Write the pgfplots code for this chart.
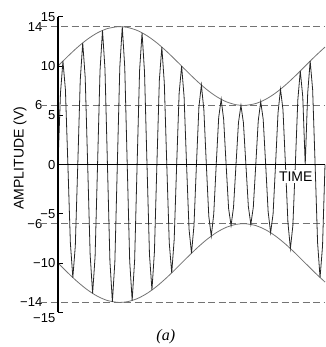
\documentclass[border=0pt]{standalone}
\usepackage{fontspec}
\setmainfont{Liberation Sans}
\newfontfamily\serifit{Liberation Serif}
\usepackage{pgfplots}
\pgfplotsset{compat=1.18}
\definecolor{envgray}{gray}{0.45}
\definecolor{dashgray}{gray}{0.45}
\begin{document}
\begin{tikzpicture}
\begin{axis}[
  scale only axis, width=267pt, height=295.5pt,
  xmin=0, xmax=13.5, ymin=-15, ymax=15,
  clip=false,
  axis line style={draw=none},
  xtick=\empty,
  ytick={15,10,5,0,-5,-10,-15},
  yticklabels={15,10,5,0,−5,−10,{}},
  extra y ticks={14,6,-6,-14},
  extra y tick labels={14,6,−6,−14},
  extra y tick style={major tick length=0pt, yticklabel style={xshift=-13pt}},
  tick align=inside, major tick length=5pt,
  tick style={black, line width=1pt},
  ytick pos=left,
  yticklabel style={font=\fontsize{13}{13}\selectfont, inner sep=2.5pt},
]
\coordinate (SW) at (rel axis cs:0,0);
% dashed reference lines
\addplot[dashgray, line width=0.7pt, dash pattern=on 7pt off 3.5pt] coordinates {(-0.9,14) (13.5,14)};
\addplot[dashgray, line width=0.7pt, dash pattern=on 7pt off 3.5pt] coordinates {(-0.9,6) (13.5,6)};
\addplot[dashgray, line width=0.7pt, dash pattern=on 7pt off 3.5pt] coordinates {(-0.9,-6) (13.5,-6)};
\addplot[dashgray, line width=0.7pt, dash pattern=on 7pt off 3.5pt] coordinates {(-0.9,-14) (13.5,-14)};
% envelope
\addplot[envgray, line width=0.8pt, smooth] coordinates {
(0,10) (0.5,10.995) (1,11.927) (1.5,12.738) (2,13.377) (2.5,13.804) (3,13.992) (3.125,14)
(3.5,13.929) (4,13.619) (4.5,13.082) (5,12.351) (5.5,11.472) (6,10.501) (6.5,9.499)
(7,8.528) (7.5,7.649) (8,6.918) (8.5,6.381) (9,6.071) (9.375,6) (9.5,6.008) (10,6.196)
(10.5,6.623) (11,7.262) (11.5,8.073) (12,9.005) (12.5,10) (13,10.995) (13.5,11.927)};
\addplot[envgray, line width=0.8pt, smooth] coordinates {
(0,-10) (0.5,-10.995) (1,-11.927) (1.5,-12.738) (2,-13.377) (2.5,-13.804) (3,-13.992) (3.125,-14)
(3.5,-13.929) (4,-13.619) (4.5,-13.082) (5,-12.351) (5.5,-11.472) (6,-10.501) (6.5,-9.499)
(7,-8.528) (7.5,-7.649) (8,-6.918) (8.5,-6.381) (9,-6.071) (9.375,-6) (9.5,-6.008) (10,-6.196)
(10.5,-6.623) (11,-7.262) (11.5,-8.073) (12,-9.005) (12.5,-10) (13,-10.995) (13.5,-11.927)};
% carrier
\addplot[black!85, line width=0.8pt] coordinates {
(0,0) (0.125,7.249) (0.25,10.501) (0.375,7.601) (0.5,0) (0.625,-7.945) (0.75,-11.472) (0.875,-8.275)
(1,0) (1.125,8.586) (1.25,12.351) (1.375,8.874) (1.5,0) (1.625,-9.133) (1.75,-13.082) (1.875,-9.359)
(2,0) (2.125,9.549) (2.25,13.619) (2.375,9.701) (2.5,0) (2.625,-9.810) (2.75,-13.929) (2.875,-9.877)
(3,0) (3.125,9.899) (3.25,13.992) (3.375,9.877) (3.5,0) (3.625,-9.810) (3.75,-13.804) (3.875,-9.701)
(4,0) (4.125,9.549) (4.25,13.377) (4.375,9.359) (4.5,0) (4.625,-9.133) (4.75,-12.738) (4.875,-8.874)
(5,0) (5.125,8.586) (5.25,11.927) (5.375,8.275) (5.5,0) (5.625,-7.945) (5.75,-10.995) (5.875,-7.601)
(6,0) (6.125,7.249) (6.25,10) (6.375,6.894) (6.5,0) (6.625,-6.541) (6.75,-9.005) (6.875,-6.197)
(7,0) (7.125,5.867) (7.25,8.073) (7.375,5.556) (7.5,0) (7.625,-5.268) (7.75,-7.262) (7.875,-5.009)
(8,0) (8.125,4.783) (8.25,6.623) (8.375,4.593) (8.5,0) (8.625,-4.441) (8.75,-6.196) (8.875,-4.332)
(9,0) (9.125,4.265) (9.25,6.008) (9.375,4.243) (9.5,0) (9.625,-4.265) (9.75,-6.071) (9.875,-4.332)
(10,0) (10.125,4.441) (10.25,6.381) (10.375,4.593) (10.5,0) (10.625,-4.783) (10.75,-6.918) (10.875,-5.009)
(11,0) (11.125,5.268) (11.25,7.649) (11.375,5.556) (11.5,0) (11.625,-5.867) (11.75,-8.528) (11.875,-6.197)
(12,0) (12.125,6.541) (12.25,9.499) (12.375,6.894) (12.5,0) (12.625,7.249) (12.75,10.501) (12.875,7.601)
(13,0) (13.125,-7.945) (13.25,-11.472) (13.375,-8.275) (13.5,0)};
% axes
\addplot[black, line width=1.3pt] coordinates {(0,0) (13.5,0)};
\addplot[black, line width=1.3pt] coordinates {(0,-15) (0,15)};
\node[anchor=east, inner sep=2.5pt, yshift=-6pt, font=\fontsize{13}{13}\selectfont] at (axis cs:0,-15) {−15};
\node[fill=white, inner sep=1.5pt, font=\fontsize{14}{14}\selectfont] at (axis cs:12.02,-1.2) {TIME};
\node[rotate=90, font=\fontsize{14}{14}\selectfont] at ([xshift=-38pt]axis cs:0,0.65) {AMPLITUDE (V)};
\node[font=\serifit\itshape\fontsize{16}{16}\selectfont] at (axis cs:5.45,-17.5) {(a)};
\end{axis}
\pgfresetboundingbox
\path[use as bounding box] ([xshift=-58pt,yshift=-34.7pt]SW) rectangle ++(325pt,347pt);
\end{tikzpicture}
\end{document}
